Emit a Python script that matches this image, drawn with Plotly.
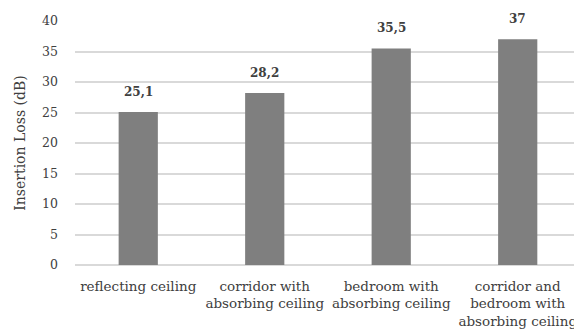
import plotly.graph_objects as go

categories = ["reflecting ceiling", "corridor with<br>absorbing ceiling",
              "bedroom with<br>absorbing ceiling", "corridor and<br>bedroom with<br>absorbing ceiling"]
values = [25.1, 28.2, 35.5, 37]
labels = [f"{v:g}".replace(".", ",") for v in values]
y_ticks = [0, 5, 10, 15, 20, 25, 30, 35, 40]

FONT = "DejaVu Serif"

fig = go.Figure()
fig.add_trace(go.Bar(x=categories, y=values, marker=dict(color="#7f7f7f", line=dict(width=0)),
                     hoverinfo="skip"))

for c, v, t in zip(categories, values, labels):
    fig.add_annotation(x=c, y=v, text=f"<b>{t}</b>", showarrow=False, yanchor="bottom",
                       yshift=11, font=dict(family=FONT, size=12, color="#404040"))

fig.update_layout(
    width=574, height=331,
    margin=dict(l=75, r=0, t=21, b=66),
    paper_bgcolor="white", plot_bgcolor="white",
    bargap=0.69, showlegend=False,
    font=dict(family=FONT, size=12, color="#404040"),
)
fig.update_xaxes(range=[-0.5, 3.445], showgrid=False, showline=False, ticks="",
                 ticklabelstandoff=11,
                 tickfont=dict(family=FONT, size=13.5, color="#404040"), automargin=False)
fig.update_yaxes(range=[0, 40], tickvals=y_ticks, showgrid=True, gridcolor="#d9d9d9", gridwidth=1.5,
                 zeroline=True, zerolinecolor="#d9d9d9", zerolinewidth=1.5, showline=False, ticks="",
                 ticklabelstandoff=16, tickfont=dict(family=FONT, size=12.5, color="#404040"),
                 title=dict(text="Insertion Loss (dB)", font=dict(family=FONT, size=14, color="#404040"),
                            standoff=13), automargin=False)

fig.write_html("out.html")
